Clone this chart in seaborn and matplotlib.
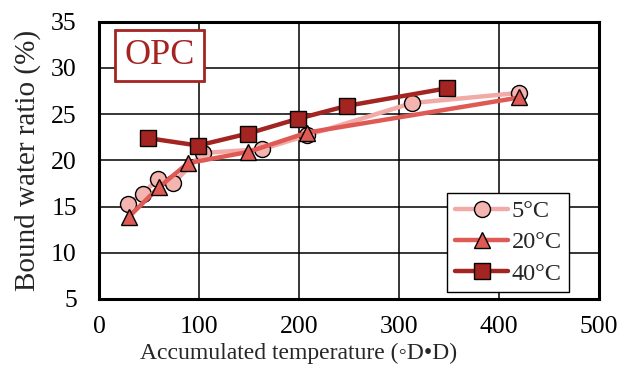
import matplotlib
matplotlib.use("Agg")
import matplotlib.pyplot as plt
import seaborn as sns
import pandas as pd

# Data
x_5c = [29, 44, 59, 74, 104, 163, 208, 313, 420]
y_5c = [15.3, 16.4, 18.0, 17.5, 20.8, 21.2, 22.7, 26.2, 27.3]
x_20c = [30, 60, 89, 149, 208, 420]
y_20c = [13.9, 17.1, 19.7, 20.9, 23.0, 26.8]
x_40c = [49, 99, 149, 199, 248, 348]
y_40c = [22.4, 21.6, 22.9, 24.5, 25.9, 27.8]
labels = ["5°C", "20°C", "40°C"]
x_ticks = [0, 100, 200, 300, 400, 500]
y_ticks = [5, 10, 15, 20, 25, 30, 35]

sns.set_style("white")
plt.rcParams['font.family'] = ['Liberation Serif', 'DejaVu Serif']

fig = plt.figure(figsize=(6.19, 3.75), dpi=100)
ax = fig.add_axes([0.16, 0.203, 0.808, 0.739])

series = [
    (x_5c, y_5c, labels[0], "#f2aaa6", "#f4b4b0", "o", 11.5),
    (x_20c, y_20c, labels[1], "#e05a55", "#e05a55", "^", 12),
    (x_40c, y_40c, labels[2], "#a32420", "#a32420", "s", 11.5),
]
for xs, ys, lab, lc, fc, mk, ms in series:
    df = pd.DataFrame({"x": xs, "y": ys})
    sns.lineplot(data=df, x="x", y="y", ax=ax, color=lc, lw=3.2, marker=mk,
                 markersize=ms, markerfacecolor=fc, markeredgecolor="black",
                 markeredgewidth=1.0, label=lab, sort=False, zorder=3)

ax.set_xlim(0, 500)
ax.set_ylim(5, 35)
ax.set_xticks(x_ticks)
ax.set_yticks(y_ticks)
ax.grid(True, color="black", lw=1.1)
ax.set_axisbelow(True)
for s in ax.spines.values():
    s.set_visible(True)
    s.set_color("black")
    s.set_linewidth(2.2)
ax.tick_params(axis="both", labelsize=18.5, length=0, colors="black")
ax.tick_params(axis="x", pad=12)
ax.tick_params(axis="y", pad=16)
ax.set_xlabel("Accumulated temperature (◦D•D)", fontsize=17, labelpad=0)
ax.xaxis.set_label_coords(0.398, -0.158)
ax.set_ylabel("Bound water ratio (%)", fontsize=21, labelpad=7)

ax.text(0.121, 0.877, "OPC", transform=ax.transAxes, fontsize=26,
        color="#a32420", ha="center", va="center", zorder=5,
        bbox=dict(boxstyle="square,pad=0.25", fc="white", ec="#a32420", lw=2))

leg = ax.legend(loc="lower right", fontsize=17.5, frameon=True, fancybox=False,
                edgecolor="black", framealpha=1, handlelength=2.2,
                borderpad=0.3, labelspacing=0.38, handletextpad=0.15,
                borderaxespad=0, bbox_to_anchor=(0.94, 0.025))
leg.get_frame().set_linewidth(1.0)

fig.savefig("out.png", dpi=100)
